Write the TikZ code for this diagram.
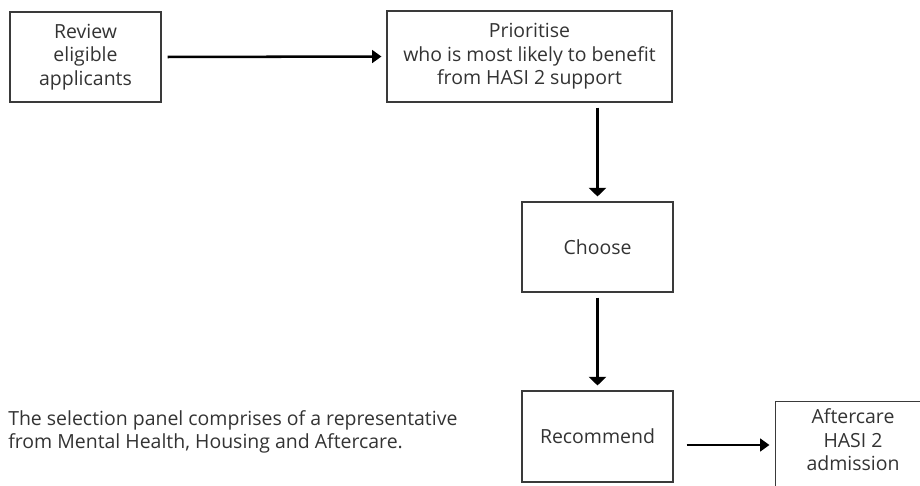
\documentclass[tikz,border=0pt]{standalone}
\usepackage{fontspec}
\setmainfont{Open Sans}
\usetikzlibrary{arrows.meta}
\definecolor{txt}{HTML}{333333}
\definecolor{edge}{HTML}{3A3A3A}
\tikzset{
  stepbox/.style={draw=edge, line width=0.8pt, text=txt, align=center, inner sep=0pt,
    font=\fontsize{14.6}{17.6}\selectfont},
  harrow/.style={line width=1.9pt, -{Triangle[length=7pt,width=9.5pt]}},
  varrow/.style={line width=1.9pt, -{Triangle[length=6.5pt,width=13pt]}},
}
\begin{document}
\begin{tikzpicture}[x=0.75pt,y=-0.75pt]
\useasboundingbox (0,0) rectangle (920,485);
\clip (0,0) rectangle (920,485);
\node[stepbox, minimum width=151*0.75pt, minimum height=90*0.75pt] (A) at (85.5,57) {Review\\eligible\\applicants};
\node[stepbox, minimum width=285*0.75pt, minimum height=91*0.75pt] (B) at (529.5,56.5) {Prioritise\\who is most likely to benefit\\from HASI 2 support};
\node[stepbox, minimum width=151*0.75pt, minimum height=90*0.75pt] (C) at (597.5,247) {Choose};
\node[stepbox, minimum width=151*0.75pt, minimum height=91*0.75pt] (D) at (597.5,436.5) {Recommend};
\node[stepbox, draw=none, minimum width=154*0.75pt, minimum height=76*0.75pt] (E) at (853,440) {Aftercare\\HASI 2\\admission};
\draw[edge, line width=0.8pt] ([yshift=-30pt]E.south west) -- (E.north west) -- ([xshift=60pt]E.north east);
\node[anchor=west, align=left, text=txt, inner sep=0pt, font=\fontsize{14.6}{17.3}\selectfont] (P) at (8,432)
  {The selection panel comprises of a representative\\from Mental Health, Housing and Aftercare.};
\draw[harrow, shorten <=6*0.75pt, shorten >=5*0.75pt] (A.east) -- (B.west);
\draw[varrow, shorten <=5*0.75pt, shorten >=5*0.75pt] (C.north |- B.south) -- (C.north);
\draw[varrow, shorten <=5*0.75pt, shorten >=5*0.75pt] (C.south) -- (D.north);
\draw[harrow, shorten <=13*0.75pt, shorten >=6*0.75pt] ([yshift=-5*0.75pt]D.east |- E.west) -- ([yshift=-5*0.75pt]E.west);
\end{tikzpicture}
\end{document}
